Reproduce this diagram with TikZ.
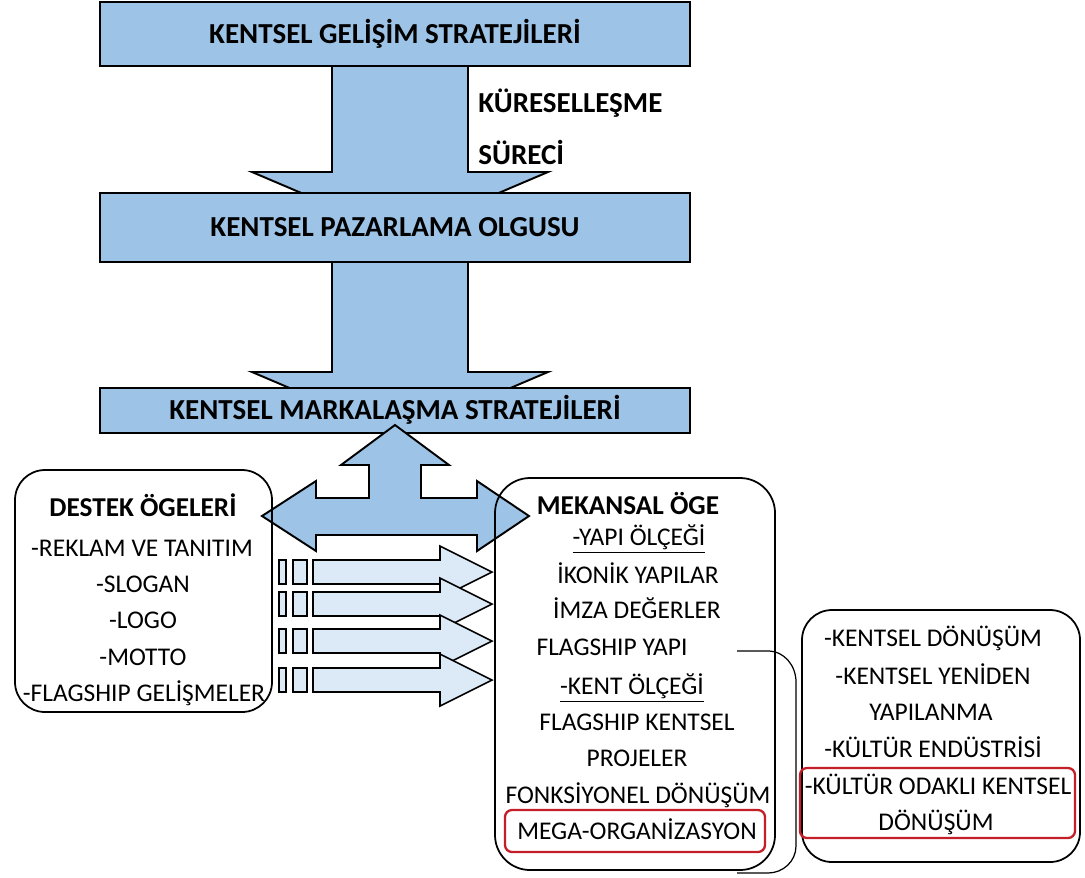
\documentclass[tikz,border=0pt]{standalone}
\usepackage{fontspec}
\setmainfont{Carlito}
\definecolor{mavi}{RGB}{157,195,230}
\definecolor{acikmavi}{RGB}{220,234,247}
\definecolor{kirmizi}{RGB}{196,30,40}
\tikzset{
	maviok/.style={draw=black, line width=1.1pt, fill=mavi, line join=miter},
	mavikutu/.style={draw=black, line width=1.1pt, fill=mavi, minimum width=11.8cm, inner sep=0pt},
	seritok/.style={draw=black, line width=0.9pt, fill=acikmavi},
	beyazkutu/.style={draw=black, line width=1pt, rounded corners=0.6cm},
	kirmizikutu/.style={draw=kirmizi, line width=1.3pt, rounded corners=0.14cm},
	baslik/.style={font=\bfseries\fontsize{16.5}{19}\selectfont, inner sep=0pt, text height=10.6pt, text depth=0pt},
	kalin/.style={font=\bfseries\fontsize{15.5}{18}\selectfont, inner sep=0pt, text height=10pt, text depth=0pt},
	yazi/.style={font=\fontsize{14.5}{17}\selectfont, inner sep=0pt, text height=9.3pt, text depth=0pt}
}
\begin{document}
\begin{tikzpicture}[x=0.02cm, y=-0.02cm]
	\useasboundingbox (0,0) rectangle (1085,877);
	%%% asagi oklar
	\draw[maviok] (332,60) -- (468,60) -- (468,172) -- (548,172) -- (400,235) -- (252,172) -- (332,172) -- cycle;
	\draw[maviok] (332,255) -- (468,255) -- (468,372) -- (548,372) -- (400,435) -- (252,372) -- (332,372) -- cycle;
	%%% kutular
	\node[mavikutu, minimum height=1.28cm] (gelisim) at (395,34) {};
	\node[baslik] (gelisimyazi) at (gelisim) {KENTSEL GELİŞİM STRATEJİLERİ};
	\node[mavikutu, minimum height=1.38cm] (pazarlama) at (395,227.5) {};
	\node[baslik] (pazarlamayazi) at (pazarlama) {KENTSEL PAZARLAMA OLGUSU};
	\node[mavikutu, minimum height=0.9cm] (markalasma) at (395,410.5) {};
	\node[baslik] (markalasmayazi) at (markalasma) {KENTSEL MARKALAŞMA STRATEJİLERİ};
	\node[baslik, anchor=west] (kuresel) at (478,103) {KÜRESELLEŞME};
	\node[baslik, anchor=west] (surec) at (478,155) {SÜRECİ};
	%%% uc yonlu ok
	\draw[maviok] (395,425) -- (449,465) -- (421,465) -- (421,498) -- (477,498) -- (477,481) -- (529,516)
		-- (477,551) -- (477,535) -- (316,535) -- (316,551) -- (262,516) -- (316,481) -- (316,498)
		-- (369,498) -- (369,465) -- (341,465) -- cycle;
	%%% serit oklar
	\foreach \c in {572,604,641,680} {
		\draw[seritok] (279,\c-12) rectangle (286,\c+12);
		\draw[seritok] (293,\c-12) rectangle (307,\c+12);
		\draw[seritok] (313,\c-12) -- (440,\c-12) -- (440,\c-26) -- (492,\c) -- (440,\c+26) -- (440,\c+12) -- (313,\c+12) -- cycle;
	}
	%%% destek
	\draw[beyazkutu] (15,470) rectangle (272,712);
	\node[kalin] (d0) at (143,508) {DESTEK ÖGELERİ};
	\node[yazi] (d1) at (142,548) {-REKLAM VE TANITIM};
	\node[yazi] (d2) at (143,584) {-SLOGAN};
	\node[yazi] (d3) at (143,620) {-LOGO};
	\node[yazi] (d4) at (143,657) {-MOTTO};
	\node[yazi] (d5) at (144,693) {-FLAGSHIP GELİŞMELER};
	%%% mekansal
	\draw[beyazkutu, rounded corners=0.7cm] (495,478) rectangle (775,870);
	\node[kalin] (m0) at (628,506) {MEKANSAL ÖGE};
	\node[yazi] (m1) at (639,537) {\underline{-YAPI ÖLÇEĞİ}};
	\node[yazi] (m2) at (638,575) {İKONİK YAPILAR};
	\node[yazi] (m3) at (637,610) {İMZA DEĞERLER};
	\node[yazi] (m4) at (612,647) {FLAGSHIP YAPI};
	\node[yazi] (m5) at (632,686) {\underline{-KENT ÖLÇEĞİ}};
	\node[yazi] (m6) at (637,722) {FLAGSHIP KENTSEL};
	\node[yazi] (m7) at (637,758) {PROJELER};
	\node[yazi] (m8) at (638,795) {FONKSİYONEL DÖNÜŞÜM};
	\node[yazi] (m9) at (637,831) {MEGA-ORGANİZASYON};
	\draw[kirmizikutu] (505,810) rectangle (765,852);
	%%% kentsel
	\draw[beyazkutu] (802,610) rectangle (1080,862);
	\node[yazi] (k1) at (933,638) {-KENTSEL DÖNÜŞÜM};
	\node[yazi] (k2) at (933,676) {-KENTSEL YENİDEN};
	\node[yazi] (k3) at (931,712) {YAPILANMA};
	\node[yazi] (k4) at (933,749) {-KÜLTÜR ENDÜSTRİSİ};
	\node[yazi] (k5) at (938,786) {-KÜLTÜR ODAKLI KENTSEL};
	\node[yazi] (k6) at (936,822) {DÖNÜŞÜM};
	\draw[kirmizikutu] (800,768) rectangle (1075,838);
	%%% parantez
	\coordinate (pb) at (737,651);
	\coordinate (ps) at (737,873);
	\draw[line width=0.7pt] (pb) -- (768,651) to[out=0,in=90] (796,682) -- (796,846) to[out=-90,in=0] (768,873) -- (ps);
\end{tikzpicture}
\end{document}
